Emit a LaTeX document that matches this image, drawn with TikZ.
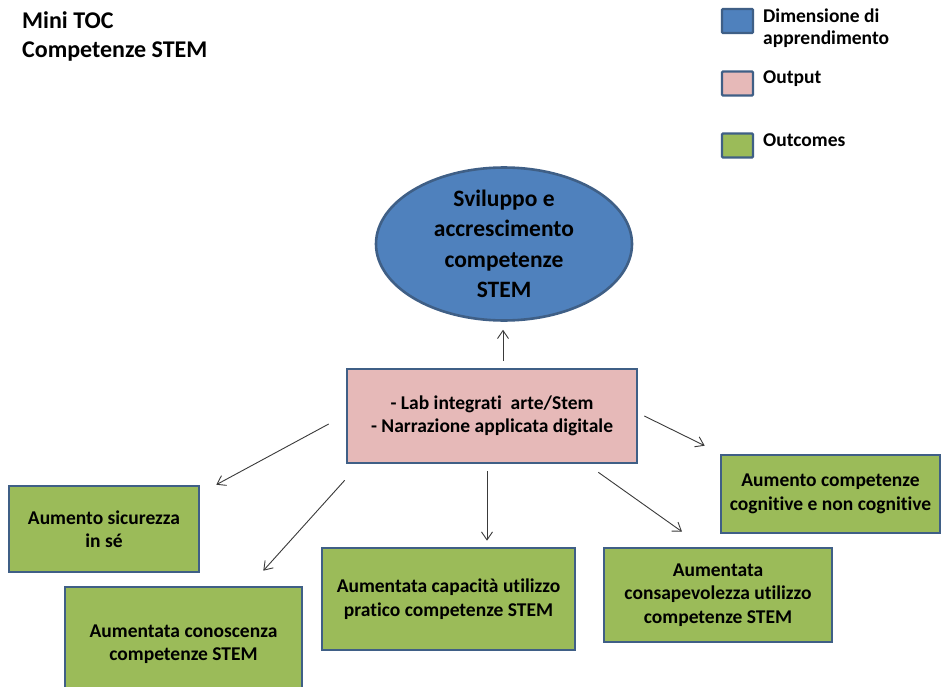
\documentclass[tikz,border=0pt]{standalone}
\usepackage{fontspec}
\setmainfont{Carlito}[Ligatures=NoCommon]
\usetikzlibrary{arrows.meta,shapes.geometric}

\definecolor{dimblue}{HTML}{4F81BD}
\definecolor{outpink}{HTML}{E6B9B8}
\definecolor{outgreen}{HTML}{9BBB59}
\definecolor{edgeblue}{HTML}{3F5F86}
\definecolor{arrowgray}{HTML}{3A3A3A}

\newcommand{\fsz}[2]{\fontsize{#1}{#2}\selectfont}

\tikzset{
  shapebase/.style={draw=edgeblue, line width=2.6pt, inner sep=0pt, align=center,
    font=\bfseries\fsz{19.5}{23.5}},
  dimshape/.style={shapebase, ellipse, fill=dimblue, font=\bfseries\fsz{23.5}{30.5}},
  outbox/.style={shapebase, rectangle, fill=outpink},
  outcomebox/.style={shapebase, rectangle, fill=outgreen},
  keybox/.style={draw=edgeblue, line width=2.4pt, rounded corners=1pt,
    minimum width=31pt, minimum height=24pt, inner sep=0pt},
  keytext/.style={anchor=base west, inner sep=0pt, align=left,
    font=\bfseries\fsz{19.5}{22}},
  flow/.style={draw=arrowgray, line width=0.9pt,
    -{Straight Barb[length=8pt,width=11pt,line width=0.9pt]}},
}

\begin{document}
\begin{tikzpicture}[x=1pt, y=-1pt]
  \useasboundingbox[fill=white] (0,0) rectangle (941,687);

  % heading
  \node[anchor=base west, inner sep=0pt, font=\bfseries\fsz{24}{29}] (head1) at (22,29) {Mini TOC};
  \node[anchor=base west, inner sep=0pt, font=\bfseries\fsz{24}{29}] (head2) at (22,58) {Competenze STEM};

  % key
  \node[keybox, fill=dimblue]   (keydim) at (737.5,21)  {};
  \node[keybox, fill=outpink]   (keyout) at (737.5,83.5) {};
  \node[keybox, fill=outgreen]  (keyoc)  at (737.5,145.5) {};
  \node[keytext] (keydimtxt) at (763,45)  {Dimensione di\\apprendimento};
  \node[keytext] (keyouttxt) at (763,84)  {Output};
  \node[keytext] (keyoctxt)  at (763,147) {Outcomes};

  % learning dimension
  \node[dimshape, minimum width=256pt, minimum height=124pt] (dim) at (504,244)
    {Sviluppo e\\accrescimento\\competenze\\STEM};

  % output
  \node[outbox, minimum width=290pt, minimum height=94pt] (out) at (492,416)
    {- Lab integrati\ \ arte/Stem\\- Narrazione applicata digitale};

  % outcomes
  \node[outcomebox, minimum width=190pt, minimum height=86pt] (sic) at (104,529)
    {Aumento sicurezza\\in sé};
  \node[outcomebox, minimum width=237pt, minimum height=114pt] (con) at (183.5,644)
    {Aumentata conoscenza\\competenze STEM};
  \node[outcomebox, minimum width=253pt, minimum height=102pt] (cap) at (448.5,599)
    {Aumentata capacità utilizzo\\pratico competenze STEM};
  \node[outcomebox, minimum width=219pt, minimum height=78pt] (cog) at (830.5,494)
    {Aumento competenze\\cognitive e non cognitive};
  \node[outcomebox, minimum width=228pt, minimum height=94pt] (cons) at (718,595)
    {Aumentata\\consapevolezza utilizzo\\competenze STEM};

  % connectors
  \draw[flow, shorten <=7pt, shorten >=8pt]
    ([xshift=11pt]out.north) -- ([xshift=11pt]out.north |- dim.south);
  \draw[flow, shorten <=7pt, shorten >=6pt]
    ([xshift=-5pt]out.south) -- ([xshift=-5pt]out.south |- cap.north);
  \draw[flow] ([shift={(-17,8)}]out.west) -- ([shift={(16,0)}]sic.north east);
  \draw[flow] ([shift={(-1,16)}]out.south west) -- ([shift={(-40,-15)}]con.north east);
  \draw[flow] ([shift={(6,0)}]out.east) -- ([shift={(-15,-8)}]cog.north west);
  \draw[flow] ([shift={(-40,8)}]out.south east) -- ([shift={(-36,-15)}]cons.north);
\end{tikzpicture}
\end{document}
